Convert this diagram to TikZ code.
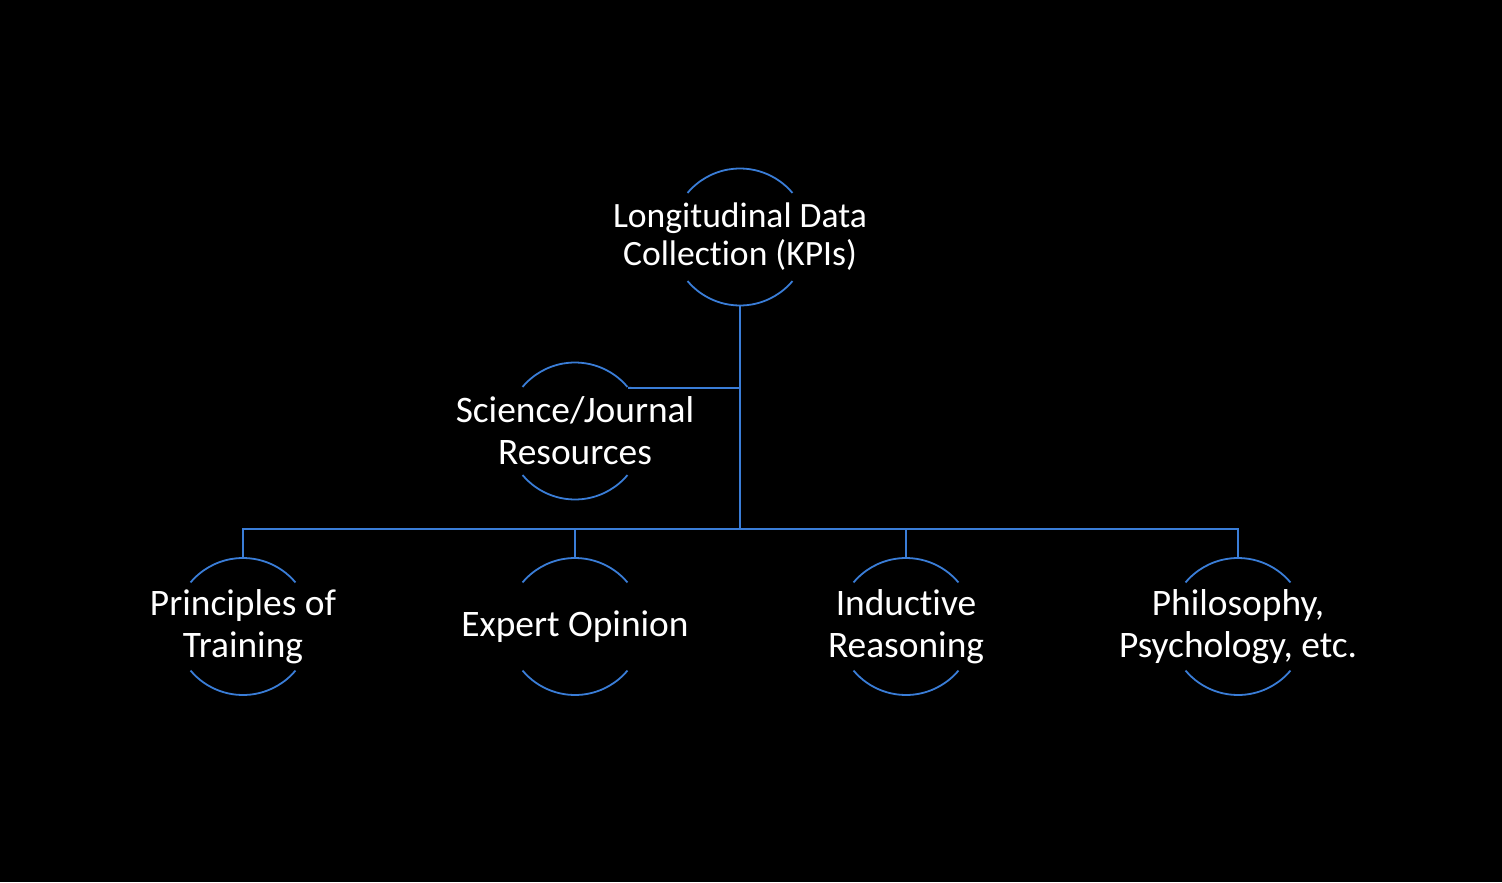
\documentclass[tikz,border=0pt]{standalone}
\usepackage{fontspec}
\setmainfont[RawFeature={-liga}]{Carlito}
\definecolor{lineblue}{RGB}{58,125,215}
\begin{document}
\begin{tikzpicture}[x=0.5pt,y=-0.5pt,
  ring/.style={circle,minimum size=68.5pt,inner sep=0pt,outer sep=0pt},
  topic/.style={text=white,align=center,inner sep=0pt,
    font=\fontsize{18.7}{21}\selectfont},
  topicsmall/.style={topic,font=\fontsize{17.8}{19}\selectfont},
  conn/.style={draw=lineblue,line width=0.9pt}]
\fill[black] (0,0) rectangle (1502,882);
\useasboundingbox (0,0) rectangle (1502,882);
\node[ring] (kpi) at (740,237) {};
\node[ring] (sci) at (575,431) {};
\node[ring] (pri) at (243,626.5) {};
\node[ring] (exp) at (575,626.5) {};
\node[ring] (ind) at (906,626.5) {};
\node[ring] (phi) at (1238,626.5) {};
\node[topicsmall] (kpit) at (kpi.center) {Longitudinal Data\\Collection (KPIs)};
\node[topic] (scit) at (sci.center) {Science/Journal\\Resources};
\node[topic] (prit) at (pri.center) {Principles of\\Training};
\node[topic] (expt) at (exp.center) {Expert Opinion};
\node[topic] (indt) at (ind.center) {Inductive\\Reasoning};
\node[topic] (phit) at (phi.center) {Philosophy,\\Psychology, etc.};
\foreach \n in {kpi,sci,pri,exp,ind,phi}{
  \draw[conn] (\n.40) arc[start angle=40,end angle=140,radius=34.25pt];
  \draw[conn] (\n.220) arc[start angle=220,end angle=320,radius=34.25pt];
}
\coordinate (bus) at (740,529);
\coordinate (scij) at (740,388);
\draw[conn] (kpi.south) -- (bus);
\draw[conn] (sci.39) -- (scij);
\draw[conn] (pri.north) -- (pri.north |- bus) -- (phi.north |- bus) -- (phi.north);
\draw[conn] (exp.north) -- (exp.north |- bus);
\draw[conn] (ind.north) -- (ind.north |- bus);
\end{tikzpicture}
\end{document}
